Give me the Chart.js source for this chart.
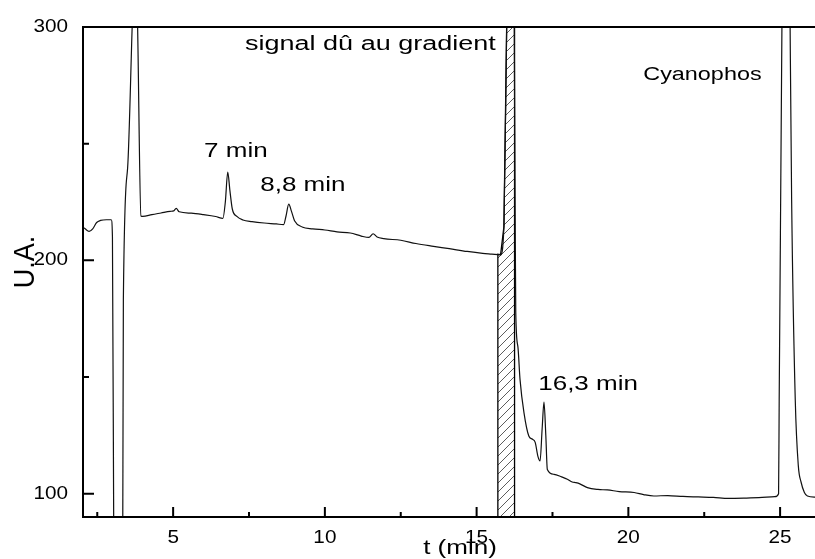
<!DOCTYPE html>
<html>
<head>
<meta charset="utf-8">
<script src="https://cdn.jsdelivr.net/npm/chart.js@4/dist/chart.umd.min.js"></script>
<style>
  html, body { margin: 0; padding: 0; background: #fff; }
  #wrap { width: 815px; height: 559px; }
</style>
</head>
<body>
<div id="wrap"><canvas id="chrom" width="815" height="559"></canvas></div>
<script>
// ---------- data ----------
const traceTime = [
  2.0, 2.1, 2.23, 2.35, 2.48, 2.61, 2.8, 2.96, 3.0, 3.05, 3.08, 3.2, 3.33, 3.36, 3.5, 3.65, 3.76, 3.83, 3.94,
  4.0, 4.3, 4.6, 4.9, 5.02, 5.1, 5.2, 5.6, 6.0, 6.4, 6.64, 6.72, 6.8, 6.87, 6.95, 7.1, 7.3, 7.6,
  8.0, 8.4, 8.64, 8.72, 8.81, 8.9, 9.0, 9.25, 9.6, 10.0, 10.4, 10.84, 11.2, 11.45, 11.59, 11.72, 11.94,
  12.5, 13.0, 13.58, 14.1, 14.69, 15.2, 15.5, 15.79, 15.9, 15.99, 16.1, 16.24, 16.27, 16.29, 16.36,
  16.43, 16.56, 16.72, 16.84, 16.93, 17.02, 17.09, 17.16, 17.22, 17.28, 17.33, 17.55, 17.8, 17.99,
  18.15, 18.27, 18.4, 18.65, 19.0, 19.31, 19.7, 20.19, 20.5, 20.84, 21.3, 21.8, 22.3, 22.8, 23.3,
  23.8, 24.3, 24.83, 24.95, 24.97, 25.06, 25.18, 25.33, 25.38, 25.5, 25.6, 25.69, 25.8, 25.9, 26.2
];
const traceSignal = [
  214.6, 213.5, 212.4, 213.5, 216.2, 217.1, 217.4, 217.4, 210, 60, 40, 20, 40, 183, 239.5, 300, 345, 300, 219,
  218.8, 219.6, 220.3, 221, 221.2, 222.3, 220.8, 220.2, 219.6, 218.8, 218, 225, 237.8, 230, 222, 218.8, 217.3, 216.6,
  216, 215.6, 215.3, 219, 224.1, 221, 217, 214.3, 213.5, 213, 212.2, 211.7, 210.4, 209.8, 211.4, 210, 209.3,
  208.6, 207.2, 206, 205, 203.8, 203, 202.7, 202.4, 214.5, 300, 380, 300, 220, 177.6, 163,
  149, 134.7, 124.7, 123.3, 122, 116, 114, 128, 139.2, 125, 110.4, 108.3, 107.2, 106.2,
  105, 104.7, 104.2, 102.6, 101.8, 101.6, 100.9, 100.5, 99.6, 99.0, 99.2, 98.8, 98.6, 98.4, 98.0,
  98.1, 98.3, 98.7, 100, 140, 300, 560, 300, 226, 140, 112, 105, 100.5, 99, 98.5
];

// hatched zone "signal dû au gradient" (left edge follows the rising trace)
const hatchTime   = [15.70, 15.70, 15.79, 15.9, 15.99, 16.25, 16.25];
const hatchSignal = [90, 202.6, 202.4, 214.5, 300, 300, 90];

const xMajorTicks = [5, 10, 15, 20, 25];
const xMinorTicks = [2.5, 7.5, 12.5, 17.5, 22.5];
const yMajorTicks = [100, 200, 300];
const yMinorTicks = [150, 250];

const noteTexts  = ['7 min', '8,8 min', '16,3 min', 'signal dû au gradient', 'Cyanophos'];
const noteTime   = [6.02, 7.87, 17.03, 7.37, 20.49];
const noteSignal = [244.3, 229.7, 144.4, 290.1, 277.3];
const noteSize   = [20, 20, 20, 20, 18];
const noteStretch = [1.3, 1.3, 1.3, 1.35, 1.3];

const FONT = '"Liberation Sans", Arial, sans-serif';

// ---------- helpers ----------
function stretchText(ctx, text, x, y, o) {
    ctx.save();
    ctx.font = o.size + 'px ' + FONT;
    ctx.fillStyle = '#000';
    ctx.textAlign = o.align || 'left';
    ctx.textBaseline = o.baseline || 'alphabetic';
    ctx.translate(x, y);
    ctx.scale(o.sx || 1.3, 1);
    if (o.rotate) ctx.rotate(o.rotate);
    ctx.fillText(text, 0, 0);
    ctx.restore();
}

function makeHatch() {
    const c = document.createElement('canvas');
    c.width = 9; c.height = 9;
    const g = c.getContext('2d');
    g.strokeStyle = '#333';
    g.lineWidth = 0.8;
    g.beginPath();
    g.moveTo(0, 9); g.lineTo(9, 0);
    g.moveTo(-2, 2); g.lineTo(2, -2);
    g.moveTo(7, 11); g.lineTo(11, 7);
    g.stroke();
    return g.createPattern(c, 'repeat');
}

// ---------- frame, ticks and texts ----------
const framePlugin = {
    id: 'frame',
    afterDatasetsDraw(chart) {
        const ctx = chart.ctx;
        const a = chart.chartArea;
        const xs = chart.scales.x, ys = chart.scales.y;

        ctx.save();
        ctx.strokeStyle = '#000';
        ctx.lineWidth = 2;
        ctx.beginPath();
        ctx.moveTo(a.left, a.top); ctx.lineTo(a.right, a.top);
        ctx.moveTo(a.left, a.top - 1); ctx.lineTo(a.left, a.bottom + 1);
        ctx.moveTo(a.left, a.bottom); ctx.lineTo(a.right, a.bottom);
        ctx.stroke();

        ctx.beginPath();
        yMajorTicks.forEach(v => { const p = ys.getPixelForValue(v); ctx.moveTo(a.left, p); ctx.lineTo(a.left + 11, p); });
        yMinorTicks.forEach(v => { const p = ys.getPixelForValue(v); ctx.moveTo(a.left, p); ctx.lineTo(a.left + 6, p); });
        xMajorTicks.forEach(v => { const p = xs.getPixelForValue(v); ctx.moveTo(p, a.bottom); ctx.lineTo(p, a.bottom - 10); });
        xMinorTicks.forEach(v => { const p = xs.getPixelForValue(v); ctx.moveTo(p, a.bottom); ctx.lineTo(p, a.bottom - 5); });
        ctx.stroke();
        ctx.restore();

        // tick labels
        yMajorTicks.forEach(v => {
            stretchText(ctx, String(v), a.left - 15, ys.getPixelForValue(v), { size: 18, sx: 1.15, align: 'right', baseline: 'middle' });
        });
        xMajorTicks.forEach(v => {
            stretchText(ctx, String(v), xs.getPixelForValue(v), a.bottom + 21, { size: 18, sx: 1.15, align: 'center', baseline: 'middle' });
        });

        // axis titles
        stretchText(ctx, 't (min)', 460, 554, { size: 20, align: 'center' });
        stretchText(ctx, 'U.A.', 34, 262, { size: 27, sx: 1.1, align: 'center', rotate: -Math.PI / 2 });

        // peak notes
        noteTexts.forEach((t, i) => {
            stretchText(ctx, t, xs.getPixelForValue(noteTime[i]), ys.getPixelForValue(noteSignal[i]), { size: noteSize[i], sx: noteStretch[i] });
        });
    }
};

// ---------- chart ----------
const tracePoints = traceTime.map((t, i) => ({ x: t, y: traceSignal[i] }));
const hatchPoints = hatchTime.map((t, i) => ({ x: t, y: hatchSignal[i] }));

new Chart(document.getElementById('chrom'), {
    type: 'scatter',
    data: {
        datasets: [
            {
                label: 'signal',
                data: tracePoints,
                showLine: true,
                borderColor: '#111',
                borderWidth: 1.2,
                pointRadius: 0,
                cubicInterpolationMode: 'monotone',
                clip: 0,
                order: 0
            },
            {
                label: 'gradient',
                data: hatchPoints,
                showLine: true,
                borderColor: '#000',
                borderWidth: 1.3,
                backgroundColor: makeHatch(),
                fill: 'start',
                pointRadius: 0,
                tension: 0,
                clip: 0,
                order: 1
            }
        ]
    },
    options: {
        responsive: false,
        animation: false,
        devicePixelRatio: 1,
        layout: { padding: { left: 83, top: 27, right: 0, bottom: 42 } },
        plugins: { legend: { display: false }, tooltip: { enabled: false } },
        scales: {
            x: { type: 'linear', min: 2.03, max: 26.15, display: false },
            y: { type: 'linear', min: 90, max: 300, display: false }
        }
    },
    plugins: [framePlugin]
});
</script>
</body>
</html>
